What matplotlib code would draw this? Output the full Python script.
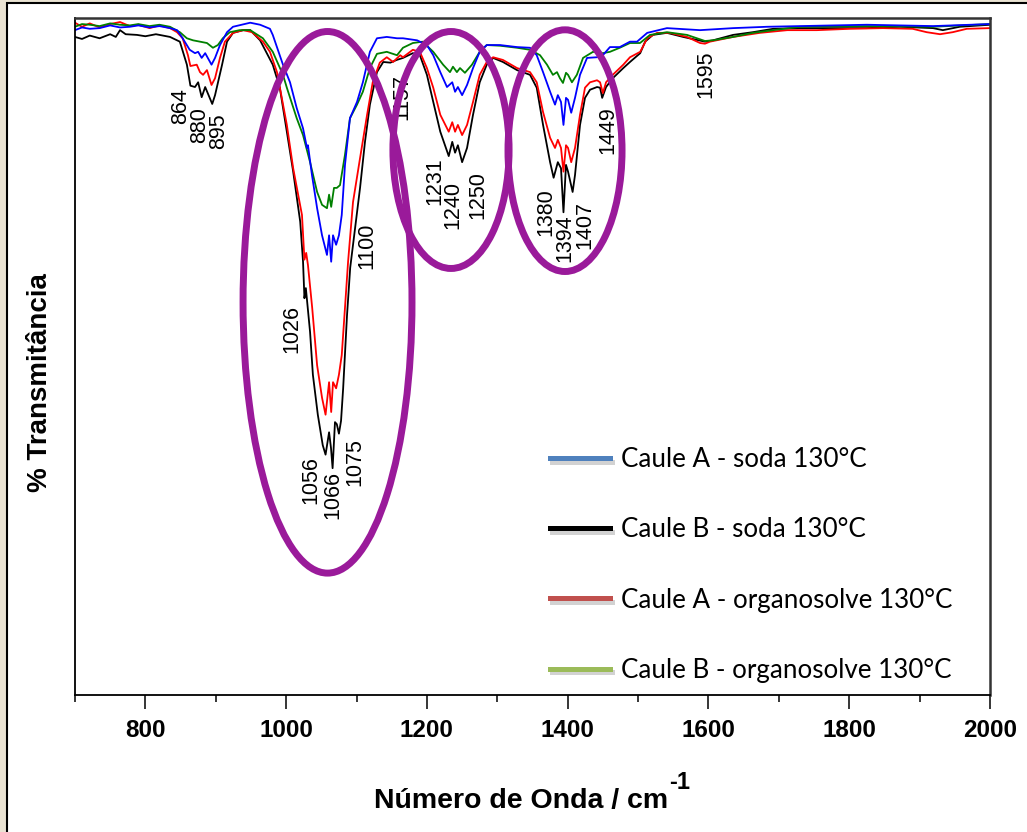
import matplotlib.pyplot as plt
import matplotlib.patheffects as pe
from matplotlib.lines import Line2D
from matplotlib.patches import Ellipse, Rectangle
from matplotlib.ticker import MultipleLocator

plt.rcParams['font.family'] = ['Liberation Sans', 'DejaVu Sans']

# Caule B - soda 130C (black)
caule_b_soda_wn = [700, 710, 721, 735, 750, 758, 764, 772, 788, 800, 815, 835, 849, 859, 864, 870.5, 875, 880,
                   885, 895, 899, 909, 916, 924.5, 939, 949, 963, 981, 991, 1001, 1010, 1020, 1024, 1026, 1028,
                   1034, 1038, 1045, 1052, 1056, 1061, 1063.7, 1066, 1069.4, 1072, 1075, 1078, 1081, 1086.5,
                   1091, 1098, 1105, 1112, 1119, 1129, 1138, 1148, 1157, 1166, 1180, 1190, 1200, 1209, 1219,
                   1231, 1236, 1240, 1244, 1250, 1257, 1265.5, 1275, 1285, 1294, 1308, 1328, 1346.5, 1356,
                   1365, 1375, 1380, 1386, 1390.5, 1394, 1397.6, 1400.5, 1407, 1410.4, 1417.5, 1424.6, 1431.7,
                   1441.7, 1446, 1449, 1454.5, 1464, 1479, 1488.5, 1503, 1510, 1521, 1541, 1564, 1595, 1606.5,
                   1635, 1663, 1692, 1730, 1777, 1825, 1872, 1919, 1933, 1957, 2000]
caule_b_soda_t = [97.2, 96.9, 97.4, 97.0, 97.6, 97.2, 98.2, 97.6, 97.5, 97.3, 97.6, 97.2, 96.5, 93.1, 90.0, 89.8,
                  90.5, 88.3, 89.8, 87.3, 88.6, 93.1, 96.5, 97.8, 98.2, 98.2, 96.7, 93.1, 89.7, 83.2, 77.3, 69.9,
                  64.0, 58.6, 60.1, 53.6, 47.3, 41.4, 36.9, 35.5, 38.8, 36.5, 33.5, 40.3, 40.0, 38.6, 40.5, 45.3,
                  56.1, 63.1, 69.0, 74.9, 81.7, 87.2, 92.0, 93.5, 93.4, 93.8, 94.1, 94.8, 94.5, 91.6, 87.6, 83.2,
                  79.6, 81.7, 80.1, 81.2, 78.7, 80.8, 85.7, 90.5, 93.1, 94.1, 93.5, 92.3, 91.6, 89.7, 84.2, 78.7,
                  76.4, 78.7, 77.8, 71.3, 78.3, 77.3, 74.3, 76.8, 84.2, 88.2, 89.4, 89.8, 89.7, 88.2, 89.8, 91.1,
                  92.6, 93.5, 94.8, 96.5, 97.5, 97.8, 97.2, 96.5, 96.7, 97.5, 97.9, 98.4, 98.5, 98.5, 98.5, 98.7,
                  98.5, 98.2, 98.7, 99.0]

# Caule A - organosolve 130C (red)
caule_a_org_wn = [700, 710, 721, 735, 750, 764, 778, 790, 806, 820, 835, 845, 853, 860.5, 864, 873, 877.6, 882,
                  887.5, 894, 899, 906, 913, 924.5, 939, 951.5, 967, 977, 987, 1001, 1010, 1022.5, 1026, 1028.5,
                  1031, 1037, 1044, 1051, 1056, 1061, 1064, 1066.6, 1071, 1075, 1079, 1083.6, 1088, 1095, 1105,
                  1115, 1123, 1133, 1143, 1152, 1162, 1166, 1180, 1190, 1200, 1209, 1219, 1231, 1236, 1240, 1244,
                  1250, 1257, 1265.5, 1275, 1285, 1294, 1308, 1328, 1346.5, 1356, 1365, 1375, 1382, 1386, 1390.5,
                  1394, 1397.6, 1400.5, 1405, 1410.4, 1417.5, 1424.6, 1431.7, 1441.7, 1446, 1450, 1454.5, 1464,
                  1479, 1488.5, 1503, 1513, 1527, 1545, 1569.5, 1588, 1595, 1602, 1635, 1673, 1712, 1754, 1801,
                  1848, 1890, 1910, 1929, 1947, 1967, 2000]
caule_a_org_t = [99.3, 98.7, 99.2, 98.6, 99.1, 99.4, 98.8, 99.0, 98.5, 98.9, 98.5, 97.9, 97.0, 94.5, 92.9, 93.1,
                 92.0, 91.6, 92.3, 90.1, 91.1, 94.1, 96.5, 97.8, 98.2, 97.9, 96.5, 95.0, 92.0, 84.2, 77.8, 70.9,
                 64.3, 65.3, 63.5, 57.2, 48.7, 43.9, 41.4, 46.2, 41.8, 46.2, 45.3, 47.3, 50.2, 57.2, 64.0, 72.8,
                 79.3, 85.7, 90.5, 93.4, 94.2, 93.5, 94.5, 94.2, 95.3, 95.0, 92.6, 89.7, 85.7, 83.2, 84.6, 83.2,
                 84.2, 82.7, 84.2, 87.6, 91.6, 93.5, 94.2, 93.8, 92.6, 92.0, 90.5, 86.1, 82.3, 80.8, 82.0, 80.8,
                 77.3, 81.2, 80.8, 78.7, 80.8, 85.7, 89.7, 90.5, 90.8, 90.5, 88.9, 90.5, 91.6, 93.1, 94.2, 95.0,
                 97.0, 97.8, 97.8, 97.2, 96.3, 96.2, 96.5, 97.2, 97.8, 98.2, 98.2, 98.4, 98.5, 98.4, 97.9, 97.6,
                 97.9, 98.4, 98.5]

# Caule A - soda 130C (blue)
caule_a_soda_wn = [700, 710, 721, 735, 750, 764, 778, 790, 806, 820, 835, 845, 853, 863, 870.5, 875, 880, 885,
                   894, 899, 906, 916, 924.5, 949, 963, 977, 981, 995.5, 1005.5, 1015, 1024, 1029.6, 1031,
                   1036.7, 1044, 1051, 1058, 1061, 1064, 1066.6, 1071, 1075, 1079, 1083.6, 1090.7, 1100.7,
                   1109, 1119, 1129, 1143, 1157.5, 1166, 1186, 1200, 1209, 1219, 1228.5, 1236, 1240, 1244, 1250,
                   1257, 1265.5, 1275, 1285, 1304, 1328, 1346.5, 1356, 1365, 1375, 1382, 1386, 1390.5, 1394,
                   1397.6, 1400.5, 1405, 1410.4, 1417.5, 1427.5, 1441.7, 1450, 1460, 1474, 1488.5, 1498.5, 1513,
                   1541, 1588, 1635, 1683, 1730, 1825, 1919, 2000]
caule_a_soda_t = [98.2, 98.6, 98.4, 98.5, 98.9, 98.6, 98.7, 98.9, 98.6, 98.8, 98.5, 98.2, 97.0, 95.3, 94.8, 95.0,
                  94.1, 94.8, 93.1, 94.1, 96.0, 97.9, 98.7, 99.3, 99.0, 98.4, 97.5, 93.1, 90.5, 86.7, 83.7, 80.8,
                  81.2, 76.8, 71.9, 67.9, 65.0, 67.9, 64.0, 67.9, 66.5, 67.9, 70.9, 78.3, 85.2, 87.6, 90.5, 95.0,
                  97.0, 97.2, 97.0, 97.0, 96.7, 96.0, 94.5, 92.0, 89.8, 90.5, 89.1, 89.8, 88.6, 90.1, 92.6, 95.0,
                  96.0, 96.0, 95.7, 95.6, 94.5, 92.0, 89.1, 87.2, 88.6, 87.6, 84.2, 88.2, 87.9, 86.0, 88.2, 91.6,
                  94.1, 94.2, 94.5, 95.7, 95.7, 96.5, 96.5, 97.8, 98.5, 98.2, 98.5, 98.7, 98.8, 99.0, 98.8, 99.1]

# Caule B - organosolve 130C (green)
caule_b_org_wn = [700, 710, 721, 735, 750, 764, 778, 790, 806, 820, 835, 849, 859, 867.7, 877.6, 887.5, 896, 903,
                  910, 920, 934, 949, 967, 981, 995.5, 1001, 1015, 1024, 1034, 1044, 1051, 1058, 1061, 1064, 1068,
                  1072, 1076.5, 1083.6, 1090.7, 1100.7, 1109, 1119, 1129, 1143, 1157.5, 1166, 1180, 1194, 1209,
                  1223, 1232.8, 1237, 1242.6, 1247, 1254, 1264, 1275, 1285, 1304, 1328, 1346.5, 1360.7, 1370.6,
                  1379, 1384.8, 1389, 1393.3, 1397.6, 1400.5, 1406, 1413, 1421.8, 1436, 1450, 1460, 1474, 1488.5,
                  1502.7, 1517, 1541, 1569.5, 1595, 1606.5, 1635, 1663, 1692, 1730, 1825, 1919, 2000]
caule_b_org_t = [98.7, 99.1, 99.0, 98.8, 99.2, 99.0, 98.9, 99.1, 98.8, 99.0, 98.7, 97.9, 97.0, 96.7, 96.5, 96.3,
                 95.6, 96.0, 97.0, 97.9, 98.2, 98.2, 97.0, 95.0, 91.6, 89.7, 85.2, 82.7, 78.7, 74.3, 72.4, 71.9,
                 73.9, 72.1, 74.9, 74.9, 75.3, 79.8, 85.2, 87.2, 89.1, 92.6, 94.7, 95.0, 94.5, 95.6, 96.3, 96.5,
                 95.0, 93.1, 92.0, 92.8, 92.0, 92.6, 91.9, 93.1, 95.0, 96.0, 95.9, 95.6, 95.3, 94.5, 93.1, 91.6,
                 92.0, 91.1, 90.4, 91.9, 91.6, 90.5, 91.6, 94.1, 95.0, 94.8, 95.0, 95.6, 96.3, 96.3, 97.5, 97.9,
                 97.5, 96.6, 96.7, 97.2, 97.8, 98.2, 98.7, 98.8, 98.7, 99.1]

series_labels = ['Caule A - soda 130°C', 'Caule B - soda 130°C',
                 'Caule A - organosolve 130°C', 'Caule B - organosolve 130°C']

peak_labels = ['864', '880', '895', '1026', '1056', '1066', '1075', '1100', '1157',
               '1231', '1240', '1250', '1380', '1394', '1407', '1449', '1595']
# where each peak label is written (wavenumber, %T of text centre)
peak_label_pos = [(850.6, 87.0), (877.6, 84.2), (904.6, 83.3), (1008.3, 54.1), (1035.3, 31.8),
                  (1066.6, 29.5), (1097.8, 34.4), (1114.9, 66.3), (1164.6, 88.3), (1211.5, 75.9),
                  (1237.0, 72.4), (1272.6, 73.9), (1369.2, 71.3), (1396.2, 67.5), (1424.6, 69.4),
                  (1457.3, 83.5), (1596.5, 91.7)]

# highlighted regions: centre, width, height
regions = [((1058.8, 58.0), 240, 80.0),
           ((1234.2, 80.5), 165, 35.0),
           ((1396.2, 80.4), 162, 35.7)]

fig = plt.figure(figsize=(10.27, 8.32), dpi=100, facecolor='#EAE3D3')
fig.patches.append(Rectangle((7 / 1027, -0.05), 1.2, 1.05 - 3 / 832, transform=fig.transFigure,
                             facecolor='white', edgecolor='black', lw=1.5, zorder=-10))
ax = fig.add_axes([0.0730, 0.1647, 0.8910, 0.8137])
ax.set_facecolor('none')

ax.plot(caule_b_soda_wn, caule_b_soda_t, color='black', lw=1.3)
ax.plot(caule_a_org_wn, caule_a_org_t, color='#FF0000', lw=1.3)
ax.plot(caule_b_org_wn, caule_b_org_t, color='#008000', lw=1.3)
ax.plot(caule_a_soda_wn, caule_a_soda_t, color='#0000FF', lw=1.3)

for lab, (x, y) in zip(peak_labels, peak_label_pos):
    ax.text(x, y, lab, rotation=90, ha='center', va='center', fontsize=15.5)

for (cx, cy), w, h in regions:
    ax.add_patch(Ellipse((cx, cy), w, h, fill=False, edgecolor='#9A1A9A', lw=5, zorder=5))

ax.set_xlim(700, 2000)
ax.set_ylim(0, 100)
ax.xaxis.set_major_locator(MultipleLocator(200))
ax.xaxis.set_minor_locator(MultipleLocator(100))
ax.tick_params(axis='x', which='major', length=10, width=1.1, pad=7, labelsize=17.5)
ax.tick_params(axis='x', which='minor', length=5, width=1.1)
ax.set_yticks([])
for lab in ax.get_xticklabels():
    lab.set_fontweight('bold')
for side in ['left', 'bottom']:
    ax.spines[side].set_linewidth(1.3)
for side in ['top', 'right']:
    ax.spines[side].set_linewidth(1.8)
    ax.spines[side].set_color('#333333')

ax.set_xlabel('Número de Onda / cm', fontsize=20.5, fontweight='bold')
ax.xaxis.set_label_coords(0.487, -0.138)
ax.annotate('-1', xy=(1.0, 0.8), xycoords=ax.xaxis.label, xytext=(1, 0), textcoords='offset points',
            ha='left', va='bottom', fontsize=17, fontweight='bold')
ax.set_ylabel('% Transmitância', fontsize=20, fontweight='bold')
ax.yaxis.set_label_coords(-0.0245, 0.462)

shadow = [pe.SimpleLineShadow(offset=(1.5, -2.5), shadow_color='gray', alpha=0.35), pe.Normal()]
handles = [Line2D([], [], color=c, lw=3.6, path_effects=shadow)
           for c in ['#4F81BD', 'black', '#C0504D', '#9BBB59']]
ax.legend(handles, series_labels, loc='upper left', bbox_to_anchor=(0.519, 0.366), frameon=False,
          prop={'family': 'Lato', 'size': 18.7}, labelspacing=1.74, handlelength=2.3,
          handletextpad=0.45, borderpad=0, borderaxespad=0)

fig.savefig('out.png', dpi=100, facecolor=fig.get_facecolor())
